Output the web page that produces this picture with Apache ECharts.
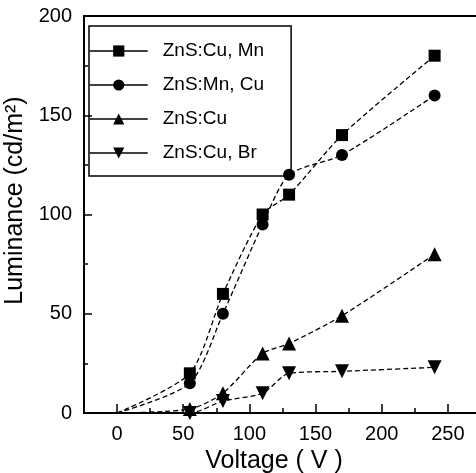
<!DOCTYPE html>
<html><head><meta charset="utf-8">
<script src="https://cdn.jsdelivr.net/npm/echarts@6/dist/echarts.min.js"></script>
<style>html,body{margin:0;padding:0;background:#fff}#c{width:476px;height:473px}</style>
</head><body><div id="c"></div>
<script>
const voltage = [55, 80, 110, 130, 170, 240];
const cuMn = [20, 60, 100, 110, 140, 180];
const mnCu = [15, 50, 95, 120, 130, 160];
const cuOnly = [2, 10, 30, 35, 49, 80];
const cuBr = [0, 6, 10, 20, 21, 23];
const seriesNames = ['ZnS:Cu, Mn', 'ZnS:Mn, Cu', 'ZnS:Cu', 'ZnS:Cu, Br'];
const xMajorTicks = [0, 50, 100, 150, 200, 250];
const xMinorTicks = [25, 75, 125, 175, 225, 275];
const origin = [0, 0];

const FONT = '"Liberation Sans", Arial, Helvetica, sans-serif';

function mk(name, vals, symbol, size, rotate) {
  const data = [{ value: origin, symbol: 'none' }].concat(voltage.map((v, i) => [v, vals[i]]));
  return {
    type: 'line', name, data, smooth: 0.25,
    symbol, symbolSize: size, symbolRotate: rotate || 0,
    showSymbol: true, showAllSymbol: true, clip: false,
    lineStyle: { color: '#000', width: 1.3, type: [5, 3] },
    itemStyle: { color: '#000' },
    emphasis: { disabled: true }
  };
}

const chart = echarts.init(document.getElementById('c'));
chart.setOption({
  animation: false,
  backgroundColor: '#fff',
  grid: { left: 84, top: 16, bottom: 60, width: 430, outerBoundsMode: 'none', containLabel: false, show: true, borderColor: '#000', borderWidth: 2, backgroundColor: 'transparent' },
  legend: {
    left: 89, top: 26, orient: 'vertical',
    itemWidth: 58, itemHeight: 14, itemGap: 14,
    padding: [15, 27, 13, 0],
    borderColor: '#000', borderWidth: 1.5,
    textStyle: { fontSize: 19, fontFamily: FONT, color: '#000', padding: [0, 0, 0, 10], lineHeight: 20 },
    lineStyle: { type: 'solid', width: 1.5, color: '#000' },
    itemStyle: { color: '#000' },
    data: seriesNames
  },
  xAxis: [{
    type: 'value', min: -25, max: 300,
    name: 'Voltage ( V )', nameLocation: 'middle', nameGap: 28,
    nameTextStyle: { fontSize: 25, fontFamily: FONT, color: '#000', padding: [0, 50, 0, 0] },
    axisLine: { show: true, onZero: false, lineStyle: { color: '#000', width: 2 } },
    axisTick: { show: true, inside: true, length: 9, customValues: xMajorTicks, lineStyle: { color: '#000', width: 1.5 } },
    axisLabel: { customValues: xMajorTicks, fontSize: 20, fontFamily: FONT, color: '#000', margin: 11 },
    splitLine: { show: false }
  }, {
    type: 'value', min: -25, max: 300, position: 'bottom', gridIndex: 0,
    axisLine: { show: false, onZero: false },
    axisTick: { show: true, inside: true, length: 5, customValues: xMinorTicks, lineStyle: { color: '#000', width: 1.5 } },
    axisLabel: { show: false },
    splitLine: { show: false }
  }],
  yAxis: {
    type: 'value', min: 0, max: 200, interval: 50,
    name: 'Luminance (cd/m²)', nameLocation: 'middle', nameGap: 49,
    nameTextStyle: { fontSize: 25, fontFamily: FONT, color: '#000', padding: [0, 0, 0, 28] },
    axisLine: { show: true, onZero: false, lineStyle: { color: '#000', width: 2 } },
    axisTick: { show: true, inside: true, length: 8, lineStyle: { color: '#000', width: 1.5 } },
    minorTick: { show: true, splitNumber: 2, length: 4, lineStyle: { color: '#000', width: 1.5 } },
    axisLabel: { fontSize: 20, fontFamily: FONT, color: '#000', margin: 12 },
    splitLine: { show: false }
  },
  series: [
    mk(seriesNames[0], cuMn, 'rect', 12),
    mk(seriesNames[1], mnCu, 'circle', 12),
    mk(seriesNames[2], cuOnly, 'triangle', 14),
    mk(seriesNames[3], cuBr, 'triangle', 14, 180)
  ]
});
</script>
</body></html>
